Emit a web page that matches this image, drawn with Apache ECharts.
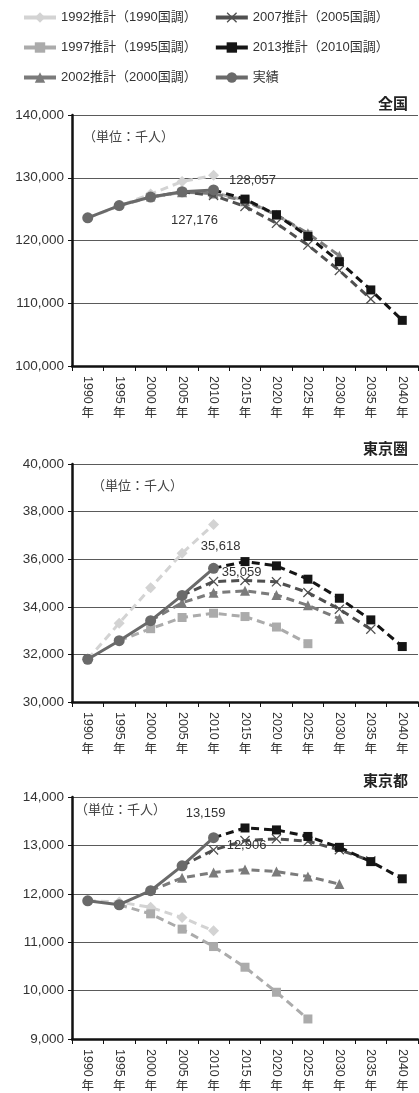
<!DOCTYPE html>
<html>
<head>
<meta charset="utf-8">
<script src="https://cdn.jsdelivr.net/npm/echarts@6/dist/echarts.min.js"></script>
<style>
  html, body { margin: 0; padding: 0; background: #fff; }
  #main { width: 419px; height: 1093px; }
</style>
</head>
<body>
<div id="main"></div>
<script>
// Census years on the category axis
const years = ['1990年', '1995年', '2000年', '2005年', '2010年', '2015年', '2020年', '2025年', '2030年', '2035年', '2040年'];

// Series names (drawing order: projections first, actual on top)
const seriesNames = ['1992推計（1990国調）', '1997推計（1995国調）', '2002推計（2000国調）', '2007推計（2005国調）', '2013推計（2010国調）', '実績'];
// Legend reading order (two columns)
const legendOrder = ['1992推計（1990国調）', '2007推計（2005国調）', '1997推計（1995国調）', '2013推計（2010国調）', '2002推計（2000国調）', '実績'];

const regionTitles = ['全国', '東京圏', '東京都'];
const unitText = '（単位：千人）';

// Value axis ranges per panel (thousand persons)
const yMin = [100000, 30000, 9000];
const yMax = [140000, 40000, 14000];
const yStep = [10000, 2000, 1000];

// 全国
const zenkokuP1992 = [123611, 125480, 127400, 129400, 130380, null, null, null, null, null, null];
const zenkokuP1997 = [null, 125570, 126892, 127684, 127623, 126444, 124133, 120913, null, null, null];
const zenkokuP2002 = [null, null, 126926, 127708, 127473, 126266, 124107, 121136, 117580, null, null];
const zenkokuP2007 = [null, null, null, 127768, 127176, 125430, 122735, 119270, 115224, 110679, null];
const zenkokuP2013 = [null, null, null, null, 128057, 126597, 124100, 120659, 116618, 112124, 107276];
const zenkokuActual = [123611, 125570, 126926, 127768, 128057, null, null, null, null, null, null];

// 東京圏
const kenP1992 = [31796, 33310, 34800, 36250, 37460, null, null, null, null, null, null];
const kenP1997 = [null, 32577, 33080, 33550, 33730, 33590, 33150, 32450, null, null, null];
const kenP2002 = [null, null, 33418, 34170, 34590, 34670, 34500, 34060, 33500, null, null];
const kenP2007 = [null, null, null, 34479, 35059, 35110, 35050, 34600, 33900, 33060, null];
const kenP2013 = [null, null, null, null, 35618, 35900, 35720, 35160, 34360, 33450, 32330];
const kenActual = [31796, 32577, 33418, 34479, 35618, null, null, null, null, null, null];

// 東京都
const toP1992 = [11856, 11830, 11720, 11510, 11235, null, null, null, null, null, null];
const toP1997 = [null, 11774, 11586, 11270, 10910, 10483, 9966, 9414, null, null, null];
const toP2002 = [null, null, 12064, 12330, 12440, 12500, 12460, 12360, 12200, null, null];
const toP2007 = [null, null, null, 12577, 12906, 13100, 13135, 13085, 12910, 12680, null];
const toP2013 = [null, null, null, null, 13159, 13360, 13320, 13185, 12960, 12665, 12310];
const toActual = [11856, 11774, 12064, 12577, 13159, null, null, null, null, null, null];

const panelValues = [
  [zenkokuP1992, zenkokuP1997, zenkokuP2002, zenkokuP2007, zenkokuP2013, zenkokuActual],
  [kenP1992, kenP1997, kenP2002, kenP2007, kenP2013, kenActual],
  [toP1992, toP1997, toP2002, toP2007, toP2013, toActual]
];

// Layout of the three panels
const gridTops = [115, 464, 797];
const gridHeights = [251, 238, 242];
const titleTops = [96, 441, 773];
const unitPos = [[83, 130], [92, 479], [75, 803]];

// Value callouts (2010 actual and 2007 projection), offsets from the point
const calloutOffsets = [
  { '実績': [39, -10], '2007推計（2005国調）': [-19, 25] },
  { '実績': [7, -22], '2007推計（2005国調）': [28, -9] },
  { '実績': [-8, -24], '2007推計（2005国調）': [33, -5] }
];
const calloutIndex = 4;

const crossPath = 'path://M0,0.9L0.9,0L5,4.1L9.1,0L10,0.9L5.9,5L10,9.1L9.1,10L5,5.9L0.9,10L0,9.1L4.1,5Z';
const styleOf = {
  '1992推計（1990国調）': { color: '#d3d3d3', symbol: 'diamond', size: 11, dash: true },
  '1997推計（1995国調）': { color: '#ababab', symbol: 'rect', size: 9, dash: true },
  '2002推計（2000国調）': { color: '#7b7b7b', symbol: 'triangle', size: 10, dash: true },
  '2007推計（2005国調）': { color: '#505050', symbol: crossPath, size: 10, dash: true },
  '2013推計（2010国調）': { color: '#151515', symbol: 'rect', size: 9, dash: true },
  '実績': { color: '#6a6a6a', symbol: 'circle', size: 11, dash: false }
};

const fmt = v => Number(v).toLocaleString('en-US');
const FONT = '"Liberation Sans", "Noto Sans CJK JP", sans-serif';
const CJK = '"Noto Sans CJK JP", sans-serif';

const grid = [], xAxis = [], yAxis = [], series = [], title = [];

for (let g = 0; g < 3; g++) {
  grid.push({ left: 72, right: 1, top: gridTops[g], height: gridHeights[g] });
  // Year digits, written vertically
  xAxis.push({
    type: 'category', gridIndex: g, data: years, boundaryGap: true, position: 'bottom',
    axisLine: { lineStyle: { color: '#111', width: 2.5 } },
    axisTick: { show: true, length: 5, lineStyle: { color: '#111', width: 1 } },
    axisLabel: {
      rotate: -90, interval: 0, margin: 10, fontSize: 12.5, color: '#333', fontFamily: FONT,
      formatter: v => v.replace('年', '')
    },
    splitLine: { show: false }
  });
  // Upright 年 below the digits
  xAxis.push({
    type: 'category', gridIndex: g, data: years, boundaryGap: true, position: 'bottom',
    axisLine: { show: false }, axisTick: { show: false }, splitLine: { show: false },
    axisLabel: {
      interval: 0, margin: 40, fontSize: 12.5, color: '#333', fontFamily: CJK,
      formatter: v => v.slice(-1)
    }
  });
  yAxis.push({
    type: 'value', gridIndex: g, min: yMin[g], max: yMax[g], interval: yStep[g],
    axisLine: { show: true, lineStyle: { color: '#111', width: 2.5 } },
    axisTick: { show: true, length: 4, lineStyle: { color: '#111', width: 1 } },
    axisLabel: { margin: 8, fontSize: 13.5, color: '#333', fontFamily: FONT, formatter: fmt },
    splitLine: { show: true, lineStyle: { color: '#5a5a5a', width: 1 } }
  });
  title.push({
    text: regionTitles[g], right: 11, top: titleTops[g], padding: 0,
    textStyle: { fontSize: 15, fontWeight: 'bold', color: '#222', fontFamily: CJK }
  });
  title.push({
    text: unitText, left: unitPos[g][0], top: unitPos[g][1], padding: 0,
    textStyle: { fontSize: 13, fontWeight: 'normal', color: '#444', fontFamily: CJK }
  });

  seriesNames.forEach((name, si) => {
    const st = styleOf[name];
    const vals = panelValues[g][si];
    const first = vals.findIndex(v => v != null);
    const offs = calloutOffsets[g][name];
    const data = vals.map((v, i) => {
      if (v == null) return '-';
      const item = { value: v };
      if (st.dash && i === first) item.symbol = 'none';
      if (offs && i === calloutIndex) {
        item.label = {
          show: true, position: 'inside', offset: offs,
          formatter: p => fmt(p.value), fontSize: 13, color: '#333', fontFamily: FONT
        };
      }
      return item;
    });
    series.push({
      name, type: 'line', xAxisIndex: 2 * g, yAxisIndex: g, data,
      symbol: st.symbol, symbolSize: st.size, symbolKeepAspect: true,
      showAllSymbol: true,
      lineStyle: { color: st.color, width: 3, type: st.dash ? [8, 5] : 'solid' },
      itemStyle: { color: st.color, opacity: 1 },
      label: { show: false },
      emphasis: { disabled: true },
      z: 2 + si
    });
  });
}

const chart = echarts.init(document.getElementById('main'), null, { renderer: 'canvas' });
chart.setOption({
  animation: false,
  backgroundColor: '#fff',
  textStyle: { fontFamily: FONT },
  title,
  legend: {
    data: legendOrder, left: 22, top: 11, width: 400, padding: 0, orient: 'horizontal',
    itemWidth: 32, itemHeight: 13, itemGap: 17,
    lineStyle: { type: 'solid', width: 4 },
    formatter: n => '{t|' + n + '}',
    textStyle: { rich: { t: { width: 152, fontSize: 13, color: '#333', fontFamily: FONT } } }
  },
  grid, xAxis, yAxis, series
});
</script>
</body>
</html>
